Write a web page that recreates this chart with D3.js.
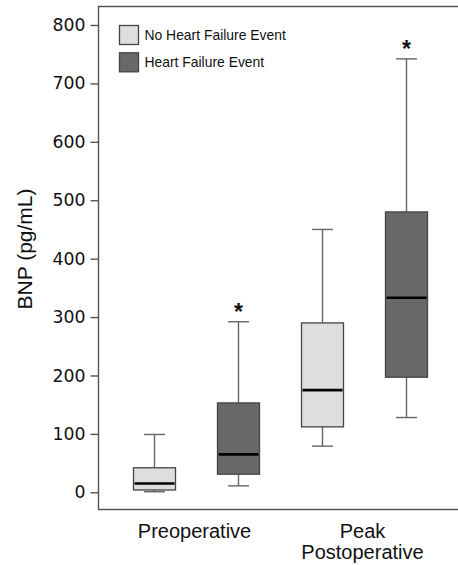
<!DOCTYPE html>
<html>
<head>
<meta charset="utf-8">
<script src="https://cdnjs.cloudflare.com/ajax/libs/d3/7.8.5/d3.min.js"></script>
<style>
  body { margin: 0; background: #fff; }
  svg { display: block; }
  .tickText { font-family: "DejaVu Sans", sans-serif; font-size: 17.3px; fill: #111; }
  .xLabel { font-family: "Liberation Sans", Arial, sans-serif; font-size: 20px; fill: #111; }
  .legendText { font-family: "Liberation Sans", Arial, sans-serif; font-size: 13.9px; fill: #111; }
</style>
</head>
<body>
<div id="chart"></div>
<script>
// data (pg/mL)
var timepoints = ["Preoperative", "Peak Postoperative"];
var groups = ["No Heart Failure Event", "Heart Failure Event"];
var whiskerLow = [[1, 11], [79, 128]];
var q1 = [[4, 31], [112, 197]];
var median = [[15, 65], [175, 333]];
var q3 = [[42, 153], [290, 480]];
var whiskerHigh = [[99, 292], [450, 742]];
var significant = [[false, true], [false, true]];
var yTicks = [0, 100, 200, 300, 400, 500, 600, 700, 800];

var width = 458;
var height = 565;
var frameLeft = 98.5;
var frameTop = 6.5;
var frameBottom = 509.5;

var fills = ["#dedede", "#686868"];

var svg = d3
  .select("#chart")
  .append("svg")
  .attr("width", width)
  .attr("height", height);

var yScale = d3.scaleLinear().domain([0, 800]).range([492.3, 25]);

var x0 = d3.scaleBand().domain(timepoints).range([112.5, 448.5]);
var x1 = d3.scalePoint().domain(groups).range([0, x0.bandwidth()]).padding(0.5);
var boxWidth = 42;

// frame (no right edge, it runs off the picture)
svg
  .append("path")
  .attr("d", "M" + width + "," + frameTop + "H" + frameLeft + "V" + frameBottom + "H" + width)
  .attr("fill", "none")
  .attr("stroke", "#555")
  .attr("stroke-width", 1.4);

// y axis
var yAxis = d3.axisLeft(yScale).tickValues(yTicks).tickSize(8).tickPadding(5);
var yG = svg
  .append("g")
  .attr("transform", "translate(" + frameLeft + ",0)")
  .call(yAxis);
yG.select(".domain").remove();
yG.selectAll(".tick line").attr("stroke", "#555").attr("stroke-width", 1.4);
yG.selectAll(".tick text").attr("class", "tickText").attr("fill", null).attr("font-family", null).attr("font-size", null);

svg
  .append("text")
  .attr("transform", "translate(32,249)rotate(-90)")
  .attr("text-anchor", "middle")
  .attr("font-family", "'Liberation Sans', Arial, sans-serif")
  .attr("font-size", 21)
  .attr("fill", "#111")
  .text("BNP (pg/mL)");

// x labels, the second one wraps onto two lines
var xLabels = svg
  .selectAll(".xLabel")
  .data(timepoints)
  .enter()
  .append("text")
  .attr("class", "xLabel")
  .attr("text-anchor", "middle")
  .attr("x", function(d) {
    return x0(d) + x0.bandwidth() / 2 - 2;
  })
  .attr("y", 538);

xLabels.each(function(d) {
  var words = d.split(" ");
  var t = d3.select(this);
  if (words.length === 1) {
    t.text(d);
  }
  else {
    words.forEach(function(w, i) {
      t.append("tspan")
        .attr("x", t.attr("x"))
        .attr("dy", i === 0 ? 0 : 21)
        .text(w);
    });
  }
});

// boxes
var boxes = [];
timepoints.forEach(function(tp, i) {
  groups.forEach(function(g, j) {
    boxes.push({
      tp: tp,
      group: g,
      gi: j,
      lo: whiskerLow[i][j],
      q1: q1[i][j],
      med: median[i][j],
      q3: q3[i][j],
      hi: whiskerHigh[i][j],
      sig: significant[i][j]
    });
  });
});

function cx(d) {
  return x0(d.tp) + x1(d.group);
}

var boxG = svg.selectAll(".box").data(boxes).enter().append("g").attr("class", "box");

// whiskers
boxG
  .append("line")
  .attr("x1", cx)
  .attr("x2", cx)
  .attr("y1", function(d) { return yScale(d.hi); })
  .attr("y2", function(d) { return yScale(d.q3); })
  .attr("stroke", "#666")
  .attr("stroke-width", 1.4);
boxG
  .append("line")
  .attr("x1", cx)
  .attr("x2", cx)
  .attr("y1", function(d) { return yScale(d.lo); })
  .attr("y2", function(d) { return yScale(d.q1); })
  .attr("stroke", "#666")
  .attr("stroke-width", 1.4);

["lo", "hi"].forEach(function(k) {
  boxG
    .append("line")
    .attr("x1", function(d) { return cx(d) - boxWidth / 4; })
    .attr("x2", function(d) { return cx(d) + boxWidth / 4; })
    .attr("y1", function(d) { return yScale(d[k]); })
    .attr("y2", function(d) { return yScale(d[k]); })
    .attr("stroke", "#666")
    .attr("stroke-width", 1.4);
});

boxG
  .append("rect")
  .attr("x", function(d) { return cx(d) - boxWidth / 2; })
  .attr("width", boxWidth)
  .attr("y", function(d) { return yScale(d.q3); })
  .attr("height", function(d) { return yScale(d.q1) - yScale(d.q3); })
  .attr("fill", function(d) { return fills[d.gi]; })
  .attr("stroke", "#444")
  .attr("stroke-width", 1.3);

boxG
  .append("line")
  .attr("x1", function(d) { return cx(d) - boxWidth / 2 + 1; })
  .attr("x2", function(d) { return cx(d) + boxWidth / 2 - 1; })
  .attr("y1", function(d) { return yScale(d.med); })
  .attr("y2", function(d) { return yScale(d.med); })
  .attr("stroke", "#000")
  .attr("stroke-width", 2.6);

// significance stars
boxG
  .filter(function(d) { return d.sig; })
  .append("text")
  .attr("x", cx)
  .attr("y", function(d) { return yScale(d.hi) - 1.5; })
  .attr("text-anchor", "middle")
  .attr("font-family", "'Liberation Sans', Arial, sans-serif")
  .attr("font-weight", "bold")
  .attr("font-size", 23)
  .attr("fill", "#111")
  .text("*");

// legend
var legend = svg
  .selectAll(".legend")
  .data(groups)
  .enter()
  .append("g")
  .attr("class", "legend")
  .attr("transform", function(d, i) {
    return "translate(119.5," + (25.5 + i * 27.3) + ")";
  });

legend
  .append("rect")
  .attr("width", 19)
  .attr("height", 19)
  .attr("fill", function(d, i) { return fills[i]; })
  .attr("stroke", "#444")
  .attr("stroke-width", 1.3);

legend
  .append("text")
  .attr("class", "legendText")
  .attr("x", 25)
  .attr("y", 14.5)
  .text(function(d) { return d; });
</script>
</body>
</html>
